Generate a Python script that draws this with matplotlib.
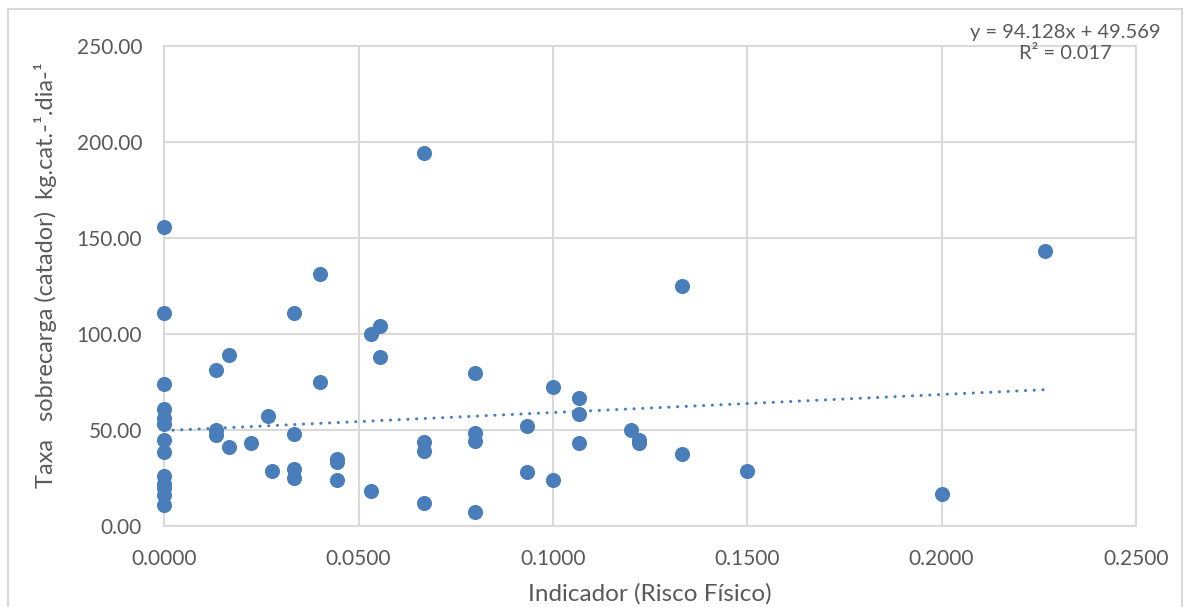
import numpy as np
import matplotlib
matplotlib.use("Agg")
import matplotlib.pyplot as plt
from matplotlib.patches import Rectangle

plt.rcParams['font.family'] = ['Lato', 'DejaVu Sans']

# Indicador (Risco Físico)
x = [0.0, 0.0, 0.0, 0.0, 0.0, 0.0, 0.0, 0.0, 0.0, 0.0, 0.0, 0.0, 0.0,
     0.0133, 0.0133, 0.0133,
     0.0167, 0.0167,
     0.0222,
     0.0267,
     0.0278,
     0.0333, 0.0333, 0.0333, 0.0333,
     0.0400, 0.0400,
     0.0444, 0.0444, 0.0444,
     0.0533, 0.0533,
     0.0556, 0.0556,
     0.0667, 0.0667, 0.0667, 0.0667,
     0.0800, 0.0800, 0.0800, 0.0800,
     0.0933, 0.0933,
     0.1000, 0.1000,
     0.1067, 0.1067, 0.1067,
     0.1200,
     0.1222, 0.1222,
     0.1333, 0.1333,
     0.1500,
     0.2000,
     0.2267]

# Taxa sobrecarga (catador)
y = [155.5, 111.0, 74.0, 61.0, 56.0, 53.0, 44.5, 38.5, 26.0, 22.0, 19.5, 16.0, 11.0,
     81.0, 50.0, 47.5,
     89.0, 41.0,
     43.0,
     57.0,
     28.7,
     111.0, 47.6, 29.4, 24.7,
     131.0, 75.0,
     35.0, 33.0, 23.8,
     100.0, 18.0,
     104.0, 88.0,
     194.5, 43.5, 39.0, 12.0,
     79.4, 48.5, 44.3, 7.3,
     52.0, 27.8,
     72.3, 23.6,
     66.7, 58.4, 42.9,
     49.9,
     44.7, 43.0,
     125.0, 37.2,
     28.5,
     16.5,
     143.0]

# linha de tendência (Excel)
slope = 94.128
intercept = 49.569
r2 = 0.017

xticks = [0.0, 0.05, 0.10, 0.15, 0.20, 0.25]
yticks = [0, 50, 100, 150, 200, 250]

azul = '#4A7EBB'
cinza = '#595959'
grade = '#D9D9D9'

fig = plt.figure(figsize=(11.86, 6.07), dpi=100)
ax = fig.add_axes([0.1385, 0.1339, 0.8193, 0.7903])

ax.scatter(x, y, s=118, color=azul, zorder=3, linewidths=0, clip_on=False)

xt = np.array([0.0, max(x)])
ax.plot(xt, slope * xt + intercept, color=azul, lw=2.2,
        linestyle=(0, (0.05, 2.8)), dash_capstyle='round', zorder=2)

ax.set_xlim(0, 0.25)
ax.set_ylim(0, 250)
ax.set_xticks(xticks)
ax.set_yticks(yticks)
ax.set_xticklabels([f'{v:.4f}' for v in xticks])
ax.set_yticklabels([f'{v:.2f}' for v in yticks])
ax.tick_params(length=0, labelsize=15, labelcolor=cinza)
ax.tick_params(axis='y', pad=16)
ax.tick_params(axis='x', pad=17)

ax.grid(True, color=grade, lw=1.5)
ax.set_axisbelow(True)
for s in ax.spines.values():
    s.set_color(grade)
    s.set_linewidth(1.5)

ax.set_xlabel('Indicador (Risco Físico)', fontsize=17.5, color=cinza, labelpad=10)
ax.set_ylabel('Taxa   sobrecarga (catador)  kg.cat.-¹.dia-¹', fontsize=17,
              color=cinza, labelpad=12)
ax.yaxis.set_label_coords(-0.110, 0.523)

fig.text(1065 / 1186, 1 - 43 / 607, f'y = {slope}x + {intercept}\nR² = {r2}',
         ha='center', va='center', fontsize=14.5, color=cinza, linespacing=1.35)

fig.patches.append(Rectangle((8 / 1186, -0.01), 1174 / 1186, 1 - 9 / 607 + 0.01,
                             transform=fig.transFigure, fill=False,
                             edgecolor=grade, lw=1.5))

fig.savefig('out.png', dpi=100)
